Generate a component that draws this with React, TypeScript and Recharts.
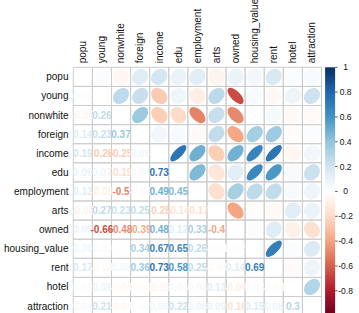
import React from 'react';
import { ScatterChart, Scatter, XAxis, YAxis } from 'recharts';

const variables = ['popu', 'young', 'nonwhite', 'foreign', 'income', 'edu', 'employment', 'arts', 'owned', 'housing_value', 'rent', 'hotel', 'attraction'];

// lower-triangle correlations: each variable vs the variables before it
const popu: number[] = [];
const young = [0.02];
const nonwhite = [-0.05, 0.26];
const foreign = [0.14, 0.23, 0.37];
const income = [0.19, -0.26, -0.25, 0.06];
const edu = [0.09, 0.07, -0.19, 0.04, 0.73];
const employment = [0.13, -0.09, -0.5, -0.03, 0.49, 0.45];
const arts = [-0.06, 0.27, 0.23, 0.25, -0.25, -0.14, -0.17];
const owned = [0.09, -0.66, -0.48, -0.39, 0.48, 0.12, 0.33, -0.4];
const housing_value = [0.06, 0.03, 0.01, 0.34, 0.67, 0.65, 0.26, -0.01, 0.02];
const rent = [0.17, -0.04, 0.05, 0.36, 0.73, 0.58, 0.25, -0.04, 0.14, 0.69];
const hotel = [0.02, 0.08, -0.04, -0.02, -0.05, 0.04, 0.04, 0.13, -0.08, 0.02, -0.03];
const attraction = [0.04, 0.21, -0.04, 0.02, 0.06, 0.22, 0.08, 0.09, -0.16, 0.15, 0.08, 0.3];

const lowerRows = [popu, young, nonwhite, foreign, income, edu, employment, arts, owned, housing_value, rent, hotel, attraction];

const colorbarTicks = [-0.8, -0.6, -0.4, -0.2, 0, 0.2, 0.4, 0.6, 0.8, 1];
const palette = ['#67001F', '#B2182B', '#D6604D', '#F4A582', '#FDDBC7', '#FFFFFF', '#D1E5F0', '#92C5DE', '#4393C3', '#2166AC', '#053061'];

const W = 359;
const H = 320;
const LEFT = 73.3;
const TOP = 67.3;
const RIGHT = 37.5;
const BOTTOM = 4.4;
const N = variables.length;
const CELL = (W - LEFT - RIGHT) / N;
const PLOT_H = H - TOP - BOTTOM;
const FONT = '"Liberation Sans", Arial, Helvetica, sans-serif';

const hex = (h: string) => [1, 3, 5].map((k) => parseInt(h.slice(k, k + 2), 16));
const colorFor = (r: number) => {
  const t = Math.max(0, Math.min(1, (r + 1) / 2)) * (palette.length - 1);
  const i = Math.min(palette.length - 2, Math.floor(t));
  const f = t - i;
  const a = hex(palette[i]);
  const b = hex(palette[i + 1]);
  const c = a.map((v, k) => Math.round(v + (b[k] - v) * f));
  return `rgb(${c[0]},${c[1]},${c[2]})`;
};

const gridData: { x: number; y: number }[] = [];
const ellipseData: { x: number; y: number; r: number }[] = [];
const numberData: { x: number; y: number; r: number }[] = [];
for (let i = 0; i < N; i++) {
  for (let j = 0; j < N; j++) {
    gridData.push({ x: j + 0.5, y: i + 0.5 });
    if (j > i) ellipseData.push({ x: j + 0.5, y: i + 0.5, r: lowerRows[j][i] });
    if (j < i) numberData.push({ x: j + 0.5, y: i + 0.5, r: lowerRows[i][j] });
  }
}
const colorbarData = [{ x: N, y: 0 }];
const centerTicks = variables.map((_, k) => k + 0.5);

const GridCell = (p: any) => (
  <rect x={p.cx - CELL / 2} y={p.cy - CELL / 2} width={CELL} height={CELL} fill="none" stroke="#cccccc" strokeWidth={1} />
);

const EllipseCell = (p: any) => {
  const r = p.payload.r;
  const a = Math.acos(r);
  const rx = 0.85 * 0.5 * Math.SQRT2 * Math.cos(a / 2) * CELL;
  const ry = 0.85 * 0.5 * Math.SQRT2 * Math.sin(a / 2) * CELL;
  return (
    <ellipse cx={p.cx} cy={p.cy} rx={Math.max(rx, 0.3)} ry={Math.max(ry, 0.3)} fill={colorFor(r)} transform={`rotate(-45 ${p.cx} ${p.cy})`} />
  );
};

const NumberCell = (p: any) => {
  const r = p.payload.r;
  return (
    <text x={p.cx} y={p.cy} dy="0.36em" textAnchor="middle" fontSize={10} fontWeight="bold" fontFamily={FONT} fill={colorFor(r)}>
      {String(Math.round(r * 100) / 100)}
    </text>
  );
};

const ColorBar = (p: any) => (
  <g>
    <defs>
      <linearGradient id="cbGrad" x1="0" y1="1" x2="0" y2="0">
        {palette.map((c, k) => (
          <stop key={k} offset={k / (palette.length - 1)} stopColor={c} />
        ))}
      </linearGradient>
    </defs>
    <rect x={p.cx + 3.6} y={p.cy - PLOT_H / 2} width={10} height={PLOT_H} fill="url(#cbGrad)" />
  </g>
);

const TopTick = (p: any) => {
  const x = p.x;
  const y = TOP - 4;
  return (
    <text x={x} y={y} dy="0.33em" transform={`rotate(-90 ${x} ${y})`} textAnchor="start" fontSize={10} fontFamily={FONT} fill="#111">
      {variables[Math.round(p.payload.value - 0.5)]}
    </text>
  );
};

const LeftTick = (p: any) => (
  <text x={LEFT - 4.8} y={p.y} dy="0.35em" textAnchor="end" fontSize={10} fontFamily={FONT} fill="#111">
    {variables[Math.round(p.payload.value - 0.5)]}
  </text>
);

const BarTick = (p: any) => {
  const x0 = W - RIGHT + 13.6;
  return (
    <g>
      <line x1={x0} x2={x0 + 2.5} y1={p.y} y2={p.y} stroke="#333" strokeWidth={0.8} />
      <text x={x0 + 10.5} y={p.y} dy="0.35em" textAnchor="middle" fontSize={8.5} fontFamily={FONT} fill="#111">
        {String(p.payload.value)}
      </text>
    </g>
  );
};

export default function App() {
  return (
    <div style={{ position: 'absolute', left: 0, top: 0, width: W, height: 313, overflow: 'hidden', background: '#fff' }}>
      <ScatterChart width={W} height={H} margin={{ top: 0, right: 0, bottom: BOTTOM, left: 0 }}>
        <XAxis
          xAxisId="x"
          dataKey="x"
          type="number"
          orientation="top"
          domain={[0, N]}
          ticks={centerTicks}
          interval={0}
          height={TOP}
          axisLine={false}
          tickLine={false}
          tick={<TopTick />}
        />
        <YAxis
          yAxisId="y"
          dataKey="y"
          type="number"
          orientation="left"
          domain={[0, N]}
          reversed
          ticks={centerTicks}
          interval={0}
          width={LEFT}
          axisLine={false}
          tickLine={false}
          tick={<LeftTick />}
        />
        <YAxis
          yAxisId="cb"
          dataKey="y"
          type="number"
          orientation="right"
          domain={[-1, 1]}
          ticks={colorbarTicks}
          interval={0}
          width={RIGHT}
          axisLine={false}
          tickLine={false}
          tick={<BarTick />}
        />
        <Scatter xAxisId="x" yAxisId="y" data={gridData} shape={GridCell} isAnimationActive={false} />
        <Scatter xAxisId="x" yAxisId="y" data={ellipseData} shape={EllipseCell} isAnimationActive={false} />
        <Scatter xAxisId="x" yAxisId="y" data={numberData} shape={NumberCell} isAnimationActive={false} />
        <Scatter xAxisId="x" yAxisId="cb" data={colorbarData} shape={ColorBar} isAnimationActive={false} />
      </ScatterChart>
    </div>
  );
}
